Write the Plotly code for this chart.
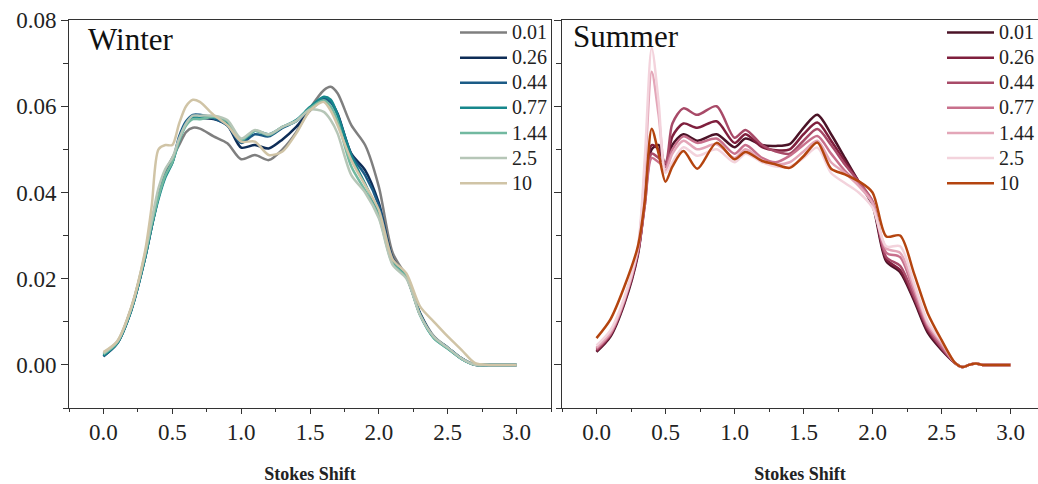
import plotly.graph_objects as go

labels = ["0.01", "0.26", "0.44", "0.77", "1.44", "2.5", "10"]

# ---- Winter data ----
winter_x = [0, 0.1, 0.2, 0.3, 0.35, 0.4, 0.45, 0.5, 0.55, 0.6, 0.65, 0.7, 0.8, 0.9, 1.0, 1.1, 1.2, 1.3,
            1.4, 1.5, 1.6, 1.65, 1.7, 1.8, 1.9, 2.0, 2.1, 2.2, 2.3, 2.4, 2.5, 2.6, 2.7, 2.8, 2.9, 3.0]
winter_001 = [0.0025, 0.0052, 0.013, 0.025, 0.033, 0.040, 0.045, 0.048, 0.051, 0.054, 0.055, 0.0548, 0.053,
              0.0514, 0.0477, 0.0487, 0.0475, 0.050, 0.054, 0.0595, 0.0637, 0.0645, 0.063, 0.0556, 0.051,
              0.0413, 0.026, 0.0205, 0.012, 0.0066, 0.004, 0.0015, 0, 0, 0, 0]
winter_026 = [0.002, 0.005, 0.0125, 0.0245, 0.032, 0.039, 0.044, 0.047, 0.0525, 0.056, 0.0573, 0.0573, 0.057,
              0.0556, 0.0504, 0.051, 0.0502, 0.0523, 0.0552, 0.059, 0.0615, 0.061, 0.0583, 0.049, 0.0452,
              0.0375, 0.0248, 0.0205, 0.0118, 0.0064, 0.004, 0.0015, 0, 0, 0, 0]
winter_044 = [0.002, 0.005, 0.0125, 0.0245, 0.032, 0.039, 0.044, 0.047, 0.053, 0.0565, 0.058, 0.058, 0.0572,
              0.0555, 0.0515, 0.0535, 0.053, 0.055, 0.0565, 0.0595, 0.0617, 0.061, 0.058, 0.0488, 0.044,
              0.037, 0.0245, 0.0205, 0.0118, 0.0064, 0.004, 0.0015, 0, 0, 0, 0]
winter_077 = [0.0022, 0.005, 0.0125, 0.0245, 0.032, 0.0385, 0.0435, 0.0468, 0.052, 0.056, 0.0575, 0.0575,
              0.0575, 0.0562, 0.052, 0.0543, 0.0535, 0.0552, 0.0568, 0.0598, 0.0622, 0.0615, 0.058, 0.0485,
              0.042, 0.035, 0.024, 0.0205, 0.0115, 0.0062, 0.0038, 0.0014, 0, 0, 0, 0]
winter_144 = [0.0025, 0.0052, 0.0128, 0.025, 0.0325, 0.039, 0.044, 0.047, 0.052, 0.0555, 0.057, 0.057,
              0.0575, 0.0565, 0.0522, 0.0543, 0.0533, 0.0552, 0.0566, 0.0595, 0.0614, 0.060, 0.0565, 0.046,
              0.0405, 0.0344, 0.0235, 0.0203, 0.0115, 0.0062, 0.0038, 0.0014, 0, 0, 0, 0]
winter_25 = [0.0027, 0.0054, 0.013, 0.0255, 0.0335, 0.041, 0.0455, 0.048, 0.0525, 0.056, 0.0578, 0.0578,
             0.0578, 0.0568, 0.0525, 0.0545, 0.0535, 0.0552, 0.0566, 0.0592, 0.0587, 0.0568, 0.0537, 0.044,
             0.040, 0.034, 0.0232, 0.020, 0.0115, 0.0065, 0.004, 0.0015, 0, 0, 0, 0]
winter_10 = [0.003, 0.0055, 0.0132, 0.026, 0.0367, 0.050, 0.051, 0.051, 0.056, 0.060, 0.0615, 0.061, 0.058,
             0.0556, 0.0518, 0.0518, 0.0487, 0.0495, 0.0537, 0.059, 0.061, 0.059, 0.0556, 0.0475, 0.0417,
             0.0359, 0.0245, 0.0212, 0.0135, 0.010, 0.0066, 0.0035, 0.0004, 0, 0, 0]

# ---- Summer data ----
summer_x = [0, 0.1, 0.2, 0.3, 0.35, 0.4, 0.45, 0.5, 0.55, 0.63, 0.73, 0.87, 1.0, 1.08, 1.2, 1.3, 1.4, 1.5,
            1.6, 1.7, 1.8, 1.9, 2.0, 2.1, 2.2, 2.3, 2.4, 2.5, 2.6, 2.65, 2.7, 2.75, 2.8, 2.9, 3.0]
summer_001 = [0.003, 0.0065, 0.014, 0.0255, 0.038, 0.050, 0.051, 0.046, 0.051, 0.0535, 0.052, 0.0535, 0.0505,
              0.0525, 0.051, 0.0508, 0.0512, 0.055, 0.058, 0.0535, 0.048, 0.0425, 0.037, 0.024, 0.0215,
              0.015, 0.0075, 0.0035, 0.0004, -0.0005, 0, 0.0003, 0, 0, 0]
summer_026 = [0.0032, 0.0068, 0.0145, 0.026, 0.038, 0.051, 0.050, 0.046, 0.053, 0.056, 0.055, 0.0565, 0.0515,
              0.0535, 0.0505, 0.0498, 0.050, 0.0535, 0.0562, 0.052, 0.0472, 0.0425, 0.0375, 0.0245, 0.022,
              0.0155, 0.008, 0.0038, 0.0004, -0.0005, 0, 0.0003, 0, 0, 0]
summer_044 = [0.0035, 0.007, 0.0145, 0.026, 0.037, 0.049, 0.048, 0.047, 0.056, 0.0595, 0.058, 0.060, 0.0527,
              0.0545, 0.051, 0.0495, 0.049, 0.052, 0.0547, 0.051, 0.0465, 0.0425, 0.038, 0.025, 0.023,
              0.016, 0.0085, 0.004, 0.0004, -0.0005, 0, 0.0003, 0, 0, 0]
summer_077 = [0.0038, 0.0072, 0.015, 0.0265, 0.037, 0.048, 0.047, 0.046, 0.050, 0.053, 0.0515, 0.0525, 0.049,
              0.051, 0.048, 0.047, 0.0485, 0.051, 0.0531, 0.049, 0.045, 0.042, 0.0378, 0.026, 0.025,
              0.017, 0.009, 0.0045, 0.0004, -0.0005, 0, 0.0003, 0, 0, 0]
summer_144 = [0.004, 0.0075, 0.015, 0.027, 0.045, 0.068, 0.058, 0.045, 0.049, 0.052, 0.050, 0.0512, 0.048,
              0.050, 0.0475, 0.0465, 0.047, 0.0495, 0.052, 0.047, 0.0445, 0.0415, 0.0375, 0.027, 0.026,
              0.018, 0.0095, 0.005, 0.0004, -0.0005, 0, 0.0003, 0, 0, 0]
summer_25 = [0.0045, 0.008, 0.0155, 0.0275, 0.048, 0.0735, 0.061, 0.0445, 0.047, 0.0505, 0.0485, 0.050, 0.047,
             0.049, 0.047, 0.046, 0.046, 0.048, 0.0504, 0.0445, 0.0422, 0.040, 0.0365, 0.0275, 0.0275,
             0.019, 0.010, 0.0055, 0.0004, -0.0005, 0, 0.0003, 0, 0, 0]
summer_10 = [0.0062, 0.0105, 0.018, 0.0275, 0.038, 0.0548, 0.049, 0.0425, 0.046, 0.0496, 0.0455, 0.0515,
             0.0477, 0.0494, 0.0473, 0.0465, 0.0457, 0.0484, 0.0516, 0.0455, 0.0442, 0.0426, 0.040, 0.0298,
             0.030, 0.0213, 0.012, 0.0058, 0.0004, -0.0005, 0, 0.0003, 0, 0, 0]

winter_series = [winter_001, winter_026, winter_044, winter_077, winter_144, winter_25, winter_10]
summer_series = [summer_001, summer_026, summer_044, summer_077, summer_144, summer_25, summer_10]

winter_colors = ["#7f7f7f", "#0e2d57", "#1b5b86", "#16878c", "#72b9a0", "#b6c6b7", "#d0c4a6"]
summer_colors = ["#4b1327", "#7f1f3d", "#a84a68", "#c8708c", "#e3a6b8", "#f3d3dc", "#b4440f"]

SERIF = "Liberation Serif, Times New Roman, serif"
W, H = 1038, 484


def legend_name(s):
    return "<span style='font-size:20px'>" + s + "</span>"


fig = go.Figure()
for lab, ys, col in zip(labels, winter_series, winter_colors):
    fig.add_trace(go.Scatter(x=winter_x, y=ys, name=legend_name(lab), mode="lines",
                             line=dict(color=col, width=2.5, shape="spline", smoothing=0.8),
                             xaxis="x", yaxis="y", legend="legend", hoverinfo="skip"))
for lab, ys, col in zip(labels, summer_series, summer_colors):
    fig.add_trace(go.Scatter(x=summer_x, y=ys, name=legend_name(lab), mode="lines",
                             line=dict(color=col, width=2.5, shape="spline", smoothing=0.8),
                             xaxis="x2", yaxis="y2", legend="legend2", hoverinfo="skip"))

axis_common = dict(showgrid=False, zeroline=False, showline=True, linecolor="#333", linewidth=1,
                   ticks="outside", tickcolor="#333", tickfont=dict(family=SERIF, size=23, color="#222"))

xaxis_common = dict(axis_common, range=[-0.25, 3.25], tick0=0, dtick=0.5, tickformat=".1f", ticklen=5,
                    ticklabelstandoff=-2,
                    minor=dict(dtick=0.25, ticklen=3, ticks="outside", tickcolor="#333"),
                    title=dict(text="<b>Stokes Shift</b>", font=dict(family=SERIF, size=18, color="#222"),
                               standoff=24))
yaxis_common = dict(axis_common, range=[-0.01, 0.08], tick0=0, dtick=0.02, tickformat=".2f", ticklen=7,
                    minor=dict(dtick=0.01, ticklen=5, ticks="outside", tickcolor="#333"))

left_d = [69 / W, 551 / W]
right_d = [562 / W, 1.0]
right_end = -0.25 + (W - 562) / 138.0

legend_common = dict(xanchor="left", yanchor="top", bgcolor="rgba(0,0,0,0)", borderwidth=0,
                     font=dict(family=SERIF, size=17, color="#222"), itemwidth=47, tracegroupgap=0)

fig.update_layout(
    width=W, height=H, autosize=False,
    margin=dict(l=0, r=0, t=20, b=76, autoexpand=False),
    paper_bgcolor="white", plot_bgcolor="white",
    xaxis=dict(xaxis_common, domain=left_d, anchor="y", mirror=True),
    yaxis=dict(yaxis_common, domain=[0, 1], anchor="x", mirror=True),
    xaxis2=dict(xaxis_common, domain=right_d, anchor="y2", mirror=True,
                range=[-0.25, right_end]),
    yaxis2=dict(yaxis_common, domain=[0, 1], anchor="x2", showticklabels=False, mirror=False),
    legend=dict(legend_common, x=455 / W, y=1.0 + 5 / 388),
    legend2=dict(legend_common, x=942 / W, y=1.0 + 5 / 388),
    annotations=[
        dict(text="Winter", xref="x domain", yref="y domain", x=(86 - 69) / 482, y=(408 - 39) / 388,
             xanchor="left", yanchor="middle", showarrow=False,
             font=dict(family=SERIF, size=31, color="#111")),
        dict(text="Summer", xref="x2 domain", yref="y2 domain", x=(571 - 562) / 476, y=(408 - 37) / 388,
             xanchor="left", yanchor="middle", showarrow=False,
             font=dict(family=SERIF, size=31, color="#111")),
    ],
)

fig.write_html("out.html", config={"displayModeBar": False},
               post_script="document.body.style.margin='0';document.body.style.overflow='hidden';")
